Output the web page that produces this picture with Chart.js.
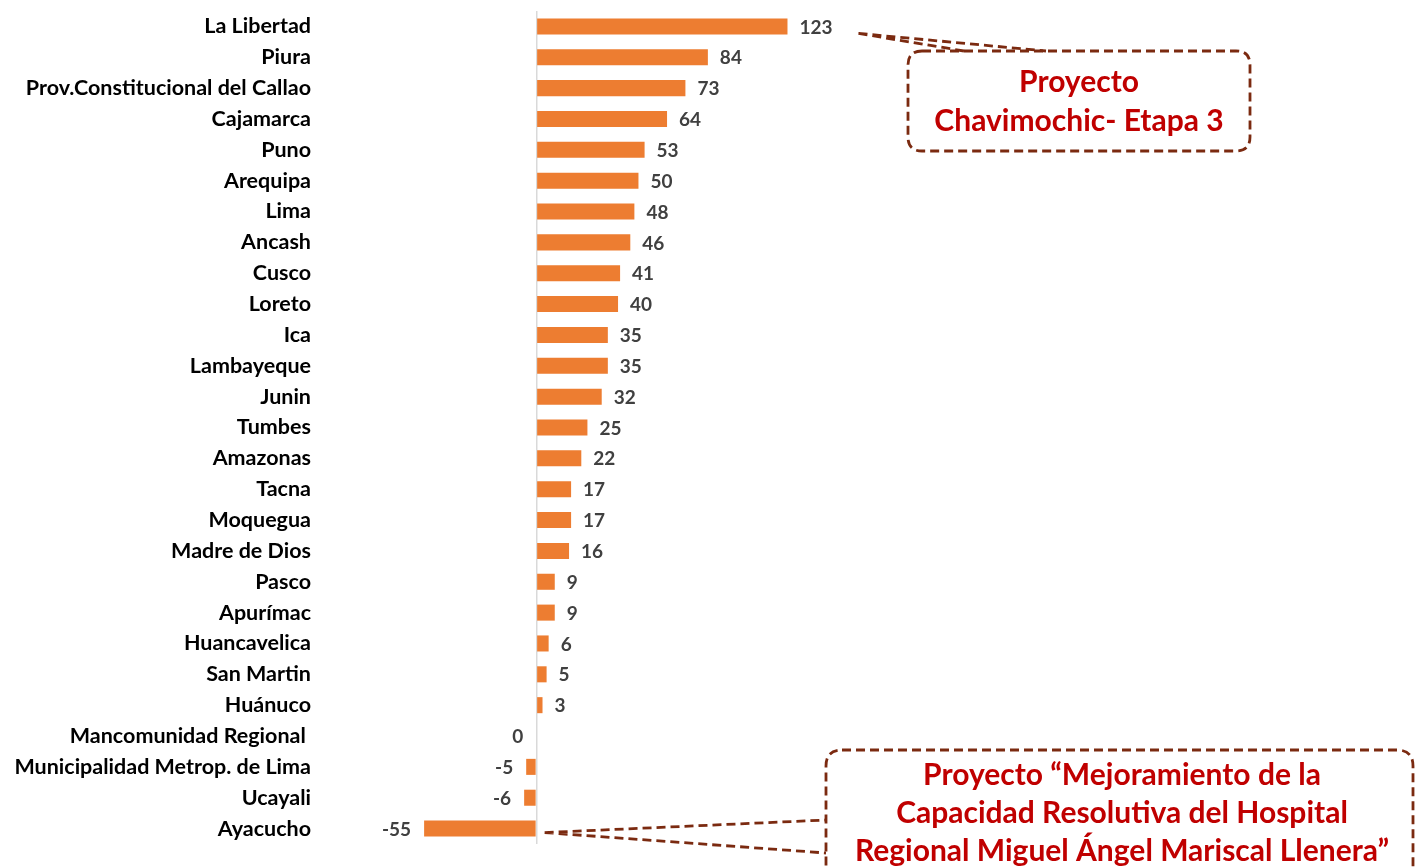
<!DOCTYPE html>
<html>
<head>
<meta charset="utf-8">
<script src="https://cdn.jsdelivr.net/npm/chart.js@4.4.1/dist/chart.umd.min.js"></script>
<style>
  html, body { margin: 0; padding: 0; background: #ffffff; }
  #wrap { width: 1415px; height: 868px; position: relative; }
</style>
</head>
<body>
<div id="wrap"><canvas id="c" width="1415" height="868"></canvas></div>
<script>
const categories = [
  "La Libertad", "Piura", "Prov.Constitucional del Callao", "Cajamarca", "Puno",
  "Arequipa", "Lima", "Ancash", "Cusco", "Loreto", "Ica", "Lambayeque", "Junin",
  "Tumbes", "Amazonas", "Tacna", "Moquegua", "Madre de Dios", "Pasco", "Apurímac",
  "Huancavelica", "San Martin", "Huánuco", "Mancomunidad Regional ",
  "Municipalidad Metrop. de Lima", "Ucayali", "Ayacucho"
];
const values = [
  123, 84, 73, 64, 53, 50, 48, 46, 41, 40, 35, 35, 32,
  25, 22, 17, 17, 16, 9, 9, 6, 5, 3, 0, -5, -6, -55
];
const callout1Lines = ["Proyecto", "Chavimochic- Etapa 3"];
const callout2Lines = ["Proyecto “Mejoramiento de la", "Capacidad Resolutiva del Hospital", "Regional Miguel Ángel Mariscal Llenera”"];
const callout1Index = 0;   // La Libertad
const callout2Index = 26;  // Ayacucho

const FONT = "Lato, 'Open Sans', sans-serif";
const BAR = "#ED7D31";
const LABEL = "#404040";
const CALLOUT_TEXT = "#C00000";
const CALLOUT_LINE = "#7B2A10";

const valueLabels = {
  id: "valueLabels",
  afterDatasetsDraw(chart) {
    const ctx = chart.ctx;
    const meta = chart.getDatasetMeta(0);
    ctx.save();
    ctx.font = "bold 19px " + FONT;
    ctx.fillStyle = LABEL;
    ctx.textBaseline = "middle";
    meta.data.forEach((bar, i) => {
      const v = values[i];
      const txt = String(v);
      if (v > 0) {
        ctx.textAlign = "left";
        ctx.fillText(txt, bar.x + 12, bar.y + 1);
      } else {
        ctx.textAlign = "right";
        ctx.fillText(txt, Math.min(bar.x, bar.base) - 13, bar.y + 1);
      }
    });
    ctx.restore();
  }
};

function roundRectPath(ctx, x, y, w, h, r) {
  ctx.beginPath();
  ctx.moveTo(x + r, y);
  ctx.lineTo(x + w - r, y);
  ctx.quadraticCurveTo(x + w, y, x + w, y + r);
  ctx.lineTo(x + w, y + h - r);
  ctx.quadraticCurveTo(x + w, y + h, x + w - r, y + h);
  ctx.lineTo(x + r, y + h);
  ctx.quadraticCurveTo(x, y + h, x, y + h - r);
  ctx.lineTo(x, y + r);
  ctx.quadraticCurveTo(x, y, x + r, y);
  ctx.closePath();
}

const callouts = {
  id: "callouts",
  afterDraw(chart) {
    const ctx = chart.ctx;
    const meta = chart.getDatasetMeta(0);
    ctx.save();
    ctx.strokeStyle = CALLOUT_LINE;
    ctx.lineWidth = 2.8;
    ctx.setLineDash([9, 5]);

    // Callout 1
    const b1 = meta.data[callout1Index];
    const t1x = b1.x + 71, t1y = b1.y + 7;
    const x1 = 908, y1 = 51, w1 = 342, h1 = 100;
    roundRectPath(ctx, x1, y1, w1, h1, 14);
    ctx.stroke();
    ctx.beginPath();
    ctx.moveTo(t1x, t1y); ctx.lineTo(964, y1);
    ctx.moveTo(t1x, t1y); ctx.lineTo(1046, y1);
    ctx.stroke();

    // Callout 2
    const b2 = meta.data[callout2Index];
    const t2x = b2.base + 9, t2y = b2.y + 4;
    const x2 = 826, y2 = 750, w2 = 587, h2 = 160;
    roundRectPath(ctx, x2, y2, w2, h2, 16);
    ctx.stroke();
    ctx.beginPath();
    ctx.moveTo(t2x, t2y); ctx.lineTo(x2, 820);
    ctx.moveTo(t2x, t2y); ctx.lineTo(x2, 853);
    ctx.stroke();

    ctx.setLineDash([]);
    ctx.fillStyle = CALLOUT_TEXT;
    ctx.textAlign = "center";
    ctx.textBaseline = "middle";
    ctx.font = "bold 30px " + FONT;
    ctx.fillText(callout1Lines[0], 1079, 82);
    ctx.fillText(callout1Lines[1], 1079, 121);
    ctx.fillText(callout2Lines[0], 1122, 775);
    ctx.fillText(callout2Lines[1], 1122, 813);
    ctx.fillText(callout2Lines[2], 1122, 851);
    ctx.restore();
  }
};

new Chart(document.getElementById("c"), {
  type: "bar",
  data: {
    labels: categories,
    datasets: [{
      data: values,
      backgroundColor: BAR,
      borderWidth: 0,
      barPercentage: 0.52,
      categoryPercentage: 1.0
    }]
  },
  options: {
    indexAxis: "y",
    responsive: false,
    animation: false,
    layout: { padding: { top: 11, bottom: 24, left: 0, right: 11 } },
    plugins: { legend: { display: false }, tooltip: { enabled: false } },
    scales: {
      x: {
        min: -106,
        max: 425,
        ticks: { display: false, stepSize: 1 },
        border: { display: false },
        afterFit(scale) { scale.height = 0; scale.paddingLeft = 0; scale.paddingRight = 0; },
        grid: {
          drawTicks: false,
          lineWidth: (c) => (c.tick && c.tick.value === 0 ? 1.5 : 0),
          color: (c) => (c.tick && c.tick.value === 0 ? "#d9d9d9" : "rgba(0,0,0,0)")
        }
      },
      y: {
        afterFit(scale) { scale.width = 320; scale.paddingTop = 0; scale.paddingBottom = 0; },
        border: { display: false },
        grid: { display: false, drawTicks: false },
        ticks: {
          padding: 9,
          color: "#000000",
          font: { family: FONT, weight: "bold", size: 21.5 },
          autoSkip: false
        }
      }
    }
  },
  plugins: [valueLabels, callouts]
});
</script>
</body>
</html>
